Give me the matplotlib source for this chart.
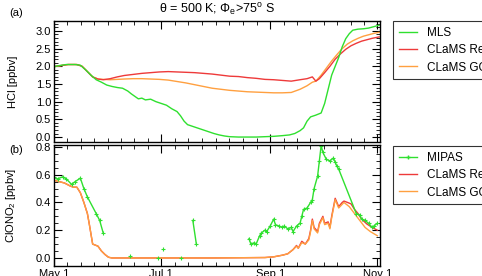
import numpy as np
import matplotlib
matplotlib.use("Agg")
import matplotlib.pyplot as plt
from matplotlib.lines import Line2D

plt.rcParams['font.family'] = ['Liberation Sans', 'DejaVu Sans']
plt.rcParams['mathtext.fontset'] = 'custom'
plt.rcParams['mathtext.rm'] = 'Liberation Sans'
plt.rcParams['mathtext.it'] = 'Liberation Sans'

# ---- data (x = days since May 1) ----
mls_days = [0, 3, 7, 12, 15, 18, 21, 24, 27, 30, 33, 36, 39, 42, 44, 46, 48, 50, 52, 55, 58, 61, 64, 67, 70,
            72, 74, 76, 79, 82, 85, 88, 91, 94, 97, 100, 105, 110, 115, 120, 125, 130, 134, 137, 140, 142,
            144, 146, 149, 152, 154, 156, 158, 160, 162, 164, 166, 168, 170, 173, 176, 179, 182, 185]
mls_hcl = [1.99, 2.02, 2.05, 2.05, 2.03, 1.90, 1.75, 1.62, 1.55, 1.47, 1.43, 1.40, 1.38, 1.30, 1.22, 1.15,
           1.08, 1.10, 1.05, 1.07, 1.00, 0.95, 0.90, 0.80, 0.72, 0.60, 0.45, 0.35, 0.30, 0.25, 0.20, 0.15,
           0.10, 0.06, 0.03, 0.01, 0.00, 0.00, 0.00, 0.01, 0.02, 0.04, 0.06, 0.10, 0.18, 0.26, 0.45, 0.57,
           0.62, 0.68, 0.95, 1.35, 1.75, 2.00, 2.25, 2.55, 2.78, 2.92, 3.02, 3.05, 3.06, 3.08, 3.12, 3.16]

ref_days = [0, 4, 8, 13, 16, 19, 22, 25, 28, 32, 36, 40, 45, 50, 55, 60, 65, 70, 75, 80, 85, 90, 95, 100,
            105, 110, 115, 120, 125, 130, 135, 140, 144, 147, 149, 151, 154, 157, 160, 163, 166, 169, 172,
            175, 178, 181, 185]
ref_hcl = [1.99, 2.02, 2.05, 2.05, 2.00, 1.85, 1.70, 1.64, 1.62, 1.65, 1.70, 1.74, 1.77, 1.80, 1.82, 1.84,
           1.85, 1.84, 1.83, 1.82, 1.80, 1.78, 1.75, 1.72, 1.71, 1.68, 1.66, 1.63, 1.62, 1.60, 1.58, 1.62,
           1.65, 1.70, 1.58, 1.65, 1.82, 2.00, 2.20, 2.35, 2.48, 2.58, 2.65, 2.71, 2.75, 2.79, 2.83]

goz_days = [0, 4, 8, 13, 16, 19, 22, 25, 28, 32, 36, 40, 45, 50, 55, 60, 65, 70, 75, 80, 85, 90, 95, 100,
            105, 110, 115, 120, 125, 130, 135, 140, 144, 147, 149, 152, 155, 158, 161, 164, 167, 170, 173,
            176, 179, 182, 185]
goz_hcl = [1.99, 2.02, 2.05, 2.05, 2.00, 1.85, 1.70, 1.64, 1.63, 1.62, 1.63, 1.64, 1.65, 1.65, 1.64, 1.63,
           1.61, 1.57, 1.53, 1.48, 1.43, 1.38, 1.35, 1.32, 1.30, 1.28, 1.27, 1.26, 1.25, 1.25, 1.26, 1.35,
           1.45, 1.55, 1.58, 1.75, 1.95, 2.15, 2.33, 2.50, 2.63, 2.72, 2.79, 2.85, 2.89, 2.93, 2.96]

mipas_days = [0, 2, 5, 7, 10, 12, 15, 17, 19, 24, 26, 28, np.nan,
              43, np.nan, 59, np.nan, 62, np.nan, 72, np.nan, 79, 81, np.nan,
              111, 112, 114, 115, 117, 118, 120, 121, 123, 125, 126, 128, 130, 131, 133, 135, 136, 138,
              140, 141, 142, 144, 146, 147, 148, 150, 151, 152, 153, 155, 157, 159, 160, 161, 162, 172,
              174, 175, 177, 179, 181, 182, 184]
mipas_clono2 = [0.58, 0.57, 0.585, 0.57, 0.53, 0.55, 0.575, 0.50, 0.44, 0.32, 0.27, 0.18, np.nan,
                0.015, np.nan, 0.0, np.nan, 0.065, np.nan, 0.0, np.nan, 0.27, 0.10, np.nan,
                0.14, 0.10, 0.11, 0.10, 0.16, 0.18, 0.20, 0.19, 0.23, 0.28, 0.24, 0.23, 0.22, 0.23, 0.21,
                0.22, 0.19, 0.23, 0.25, 0.30, 0.35, 0.36, 0.40, 0.42, 0.50, 0.59, 0.70, 0.81, 0.76, 0.71,
                0.70, 0.72, 0.69, 0.66, 0.64, 0.32, 0.31, 0.28, 0.27, 0.25, 0.22, 0.23, 0.25]

ref_cl_days = [0, 3, 6, 9, 11, 13, 15, 17, 19, 20, 22, 24, 25, 27, 29, 31, 33, 60, 90, 120, 125, 130, 133,
               136, 138, 139, 141, 143, 145, 146, 147, 148, 150, 151, 153, 154, 156, 157, 158, 160, 161,
               162, 164, 165, 167, 169, 171, 173, 175, 178, 181, 184]
ref_clono2 = [0.56, 0.55, 0.54, 0.52, 0.51, 0.51, 0.47, 0.40, 0.32, 0.25, 0.10, 0.09, 0.085, 0.05, 0.025,
              0.005, 0.0, 0.0, 0.0, 0.003, 0.008, 0.02, 0.03, 0.06, 0.09, 0.07, 0.12, 0.10, 0.14, 0.20,
              0.28, 0.22, 0.19, 0.25, 0.30, 0.25, 0.26, 0.22, 0.30, 0.43, 0.40, 0.37, 0.40, 0.41, 0.40,
              0.39, 0.35, 0.32, 0.28, 0.245, 0.22, 0.20]

goz_cl_days = [0, 3, 6, 9, 11, 13, 15, 17, 19, 20, 22, 24, 25, 27, 29, 31, 33, 60, 90, 120, 125, 130, 133,
               136, 138, 139, 141, 143, 145, 146, 147, 148, 150, 151, 153, 154, 156, 157, 158, 160, 161,
               162, 165, 168, 171, 174, 177, 180, 184]
goz_clono2 = [0.56, 0.55, 0.54, 0.52, 0.51, 0.51, 0.47, 0.40, 0.32, 0.25, 0.10, 0.09, 0.085, 0.05, 0.025,
              0.005, 0.0, 0.0, 0.0, 0.003, 0.008, 0.02, 0.03, 0.06, 0.085, 0.07, 0.11, 0.10, 0.13, 0.19,
              0.27, 0.21, 0.18, 0.24, 0.29, 0.24, 0.25, 0.21, 0.29, 0.42, 0.39, 0.36, 0.40, 0.37, 0.32,
              0.27, 0.22, 0.19, 0.16]

major_days = [0, 61, 123, 184]
major_labels = ['May 1', 'Jul 1', 'Sep 1', 'Nov 1']

GREEN = '#2fe02f'
RED = '#ee3a3a'
ORANGE = '#ffa040'

fig = plt.figure(figsize=(4.82, 2.76), dpi=100)
ax1 = fig.add_axes([54/482, 1-142/276, 326/482, 121/276])
ax2 = fig.add_axes([54/482, 1-266/276, 326/482, 121/276])

ax1.plot(goz_days, goz_hcl, color=ORANGE, lw=1.0)
ax1.plot(ref_days, ref_hcl, color=RED, lw=1.0)
ax1.plot(mls_days, mls_hcl, color=GREEN, lw=1.0)

ax2.plot(ref_cl_days, ref_clono2, color=RED, lw=1.0)
ax2.plot(goz_cl_days, goz_clono2, color=ORANGE, lw=1.0)
ax2.plot(mipas_days, mipas_clono2, color=GREEN, lw=1.0, marker='+', ms=2.5, mew=0.8)

minor = []
for a, b in zip(major_days[:-1], major_days[1:]):
    minor.extend(np.linspace(a, b, 9)[1:-1])

for ax in (ax1, ax2):
    ax.set_xlim(0, 185.5)
    ax.set_xticks(major_days)
    ax.set_xticks(minor, minor=True)
    ax.tick_params(which='both', direction='in', top=True, right=True, labelsize=8, pad=2)
    ax.tick_params(which='major', length=6, width=0.8)
    ax.tick_params(which='minor', length=3, width=0.6)
    for s in ax.spines.values():
        s.set_linewidth(1.0)

ax1.set_ylim(-0.14, 3.28)
ax1.set_yticks(np.arange(0, 3.01, 0.5))
ax1.set_yticks(np.arange(0, 3.21, 0.1), minor=True)
ax1.set_yticklabels([f'{v:.1f}' for v in np.arange(0, 3.01, 0.5)])
ax1.set_xticklabels([])

ax2.set_ylim(-0.058, 0.814)
ax2.set_yticks(np.arange(0, 0.81, 0.2))
ax2.set_yticks(np.arange(0, 0.81, 0.05), minor=True)
ax2.set_yticklabels([f'{v:.1f}' for v in np.arange(0, 0.81, 0.2)])
ax2.set_xticklabels(major_labels)

ax1.set_ylabel('HCl [ppbv]', fontsize=8, labelpad=4)
ax2.set_ylabel('ClONO$_2$ [ppbv]', fontsize=8, labelpad=4)
ax1.yaxis.set_label_coords(-0.11, 0.5)
ax2.yaxis.set_label_coords(-0.11, 0.5)

fig.text(217/482, 1-10/276, r'$\theta$ = 500 K; $\Phi_e$>75$^o$ S', ha='center', va='center', fontsize=9)
fig.text(9/482, 1-13/276, '(a)', ha='left', va='center', fontsize=8)
fig.text(9/482, 1-150/276, '(b)', ha='left', va='center', fontsize=8)

legkw = dict(loc='upper left', fontsize=8.5, frameon=True, fancybox=False, edgecolor='black',
             handlelength=1.5, handletextpad=0.9, labelspacing=0.45, borderpad=0.5, borderaxespad=0)
h1 = [Line2D([], [], color=GREEN, lw=1.0), Line2D([], [], color=RED, lw=1.0),
      Line2D([], [], color=ORANGE, lw=1.0)]
leg1 = fig.legend(h1, ['MLS', 'CLaMS Reference', 'CLaMS GOZCARDS'],
                  bbox_to_anchor=(393/482, 1-21/276), **legkw)
leg1.get_frame().set_linewidth(0.8)
h2 = [Line2D([], [], color=GREEN, lw=1.0, marker='+', ms=2.5, markevery=[0, -1]),
      Line2D([], [], color=RED, lw=1.0), Line2D([], [], color=ORANGE, lw=1.0)]
leg2 = fig.legend(h2, ['MIPAS', 'CLaMS Reference', 'CLaMS GOZCARDS'],
                  bbox_to_anchor=(393/482, 1-146/276), **legkw)
leg2.get_frame().set_linewidth(0.8)

fig.savefig('out.png', dpi=100)
